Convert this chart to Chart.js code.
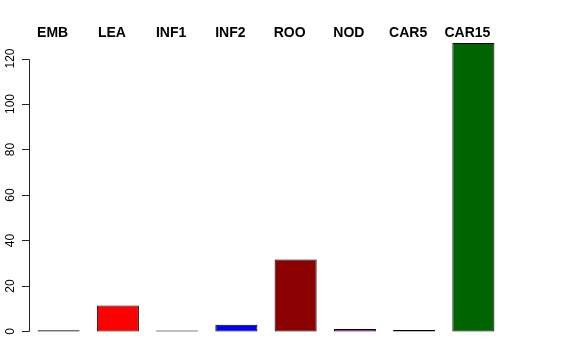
<!DOCTYPE html>
<html lang="en">
<head>
    <meta charset="UTF-8">
    <title>Bar chart</title>
    <script src="https://cdnjs.cloudflare.com/ajax/libs/Chart.js/4.4.1/chart.umd.min.js"></script>
    <style>
        html, body { margin: 0; padding: 0; background: #fff; }
        #wrap { width: 576px; height: 360px; }
    </style>
</head>
<body>
    <div id="wrap"><canvas id="barChart"></canvas></div>

    <script>
        const categories = ['EMB', 'LEA', 'INF1', 'INF2', 'ROO', 'NOD', 'CAR5', 'CAR15'];
        const values = [0.5, 11.4, 0.4, 2.9, 31.6, 1.1, 0.6, 126.8];
        const barColors = ['#222222', '#FF0000', '#334433', '#0000FF', '#8B0000', '#BB00BB', '#000080', '#006400'];
        const yTicks = [0, 20, 40, 60, 80, 100, 120];

        // R-style axis: line only from first to last tick, rotated labels, names on top
        const rAxes = {
            id: 'rAxes',
            afterDraw(chart) {
                const ctx = chart.ctx;
                const y = chart.scales.y;
                const x = chart.scales.x;
                const axisX = chart.chartArea.left;
                ctx.save();
                ctx.strokeStyle = '#222';
                ctx.lineWidth = 1;
                ctx.beginPath();
                ctx.moveTo(axisX + 0.5, Math.round(y.getPixelForValue(yTicks[0])) + 0.5);
                ctx.lineTo(axisX + 0.5, Math.round(y.getPixelForValue(yTicks[yTicks.length - 1])) + 0.5);
                yTicks.forEach(t => {
                    const py = Math.round(y.getPixelForValue(t)) + 0.5;
                    ctx.moveTo(axisX + 0.5, py);
                    ctx.lineTo(axisX - 7, py);
                });
                ctx.stroke();

                ctx.fillStyle = '#000';
                ctx.font = '12px "Liberation Sans", Arial, sans-serif';
                ctx.textAlign = 'center';
                ctx.textBaseline = 'middle';
                yTicks.forEach(t => {
                    ctx.save();
                    ctx.translate(11, y.getPixelForValue(t));
                    ctx.rotate(-Math.PI / 2);
                    ctx.fillText(String(t), 0, 0);
                    ctx.restore();
                });

                ctx.font = 'bold 14px "Liberation Sans", Arial, sans-serif';
                ctx.textBaseline = 'alphabetic';
                categories.forEach((c, i) => {
                    ctx.fillText(c, x.getPixelForValue(i) - 6, 37);
                });
                ctx.restore();
            }
        };

        const ctx = document.getElementById('barChart').getContext('2d');
        new Chart(ctx, {
            type: 'bar',
            data: {
                labels: categories,
                datasets: [{
                    data: values,
                    backgroundColor: barColors,
                    borderColor: '#000',
                    borderWidth: 1,
                    borderSkipped: false,
                    barPercentage: 0.71,
                    categoryPercentage: 1.0
                }]
            },
            options: {
                responsive: true,
                maintainAspectRatio: false,
                animation: false,
                layout: { padding: { left: 29, right: 73, top: 31, bottom: 17 } },
                plugins: { legend: { display: false }, tooltip: { enabled: false } },
                scales: {
                    x: { display: false },
                    y: { display: false, min: -5.08, max: 132.1 }
                }
            },
            plugins: [rAxes]
        });
    </script>
</body>
</html>
